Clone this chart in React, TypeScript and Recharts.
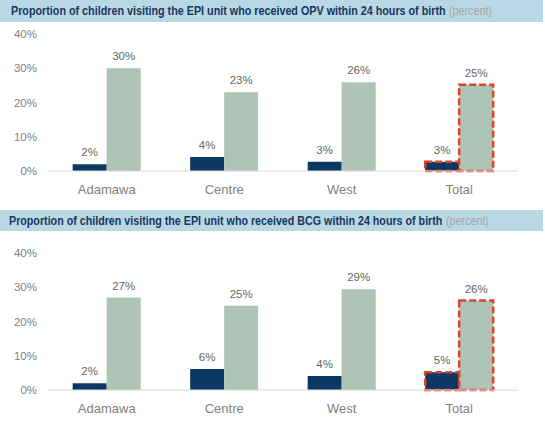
import { BarChart, Bar, XAxis, YAxis, Cell, LabelList } from "recharts";

const regions = ["Adamawa", "Centre", "West", "Total"];
const opvDark = [2, 4.1, 2.7, 2.7];
const opvLight = [30, 23, 25.9, 25.2];
const bcgDark = [2, 6.1, 4.1, 5.2];
const bcgLight = [27, 24.6, 29.4, 26.1];
const yTicks = [0, 10, 20, 30, 40];
const highlighted = "Total";

const opvTitle = "Proportion of children visiting the EPI unit who received OPV within 24 hours of birth";
const bcgTitle = "Proportion of children visiting the EPI unit who received BCG within 24 hours of birth";

const NAVY = "#0b3862";
const SAGE = "#adc4b6";
const RED = "#d9452b";
const FONT = "'Liberation Sans', Arial, sans-serif";

const pct = (v: any) => `${Math.round(Number(v))}%`;

// measure natural width so the condensed title can be squeezed with a transform
function measure(text: string, font: string) {
  const ctx = document.createElement("canvas").getContext("2d");
  if (!ctx) return text.length * 6;
  ctx.font = font;
  return ctx.measureText(text).width;
}

function Squeezed({ text, x, y, width, bold, fill }: { text: string; x: number; y: number; width: number; bold?: boolean; fill: string }) {
  const natural = measure(text, `${bold ? "bold " : ""}12px ${FONT}`);
  const sx = width / natural;
  return (
    <g transform={`translate(${x},${y}) scale(${sx},1)`}>
      <text x={0} y={0} fontFamily={FONT} fontSize={12} fontWeight={bold ? "bold" : "normal"} fill={fill}>
        {text}
      </text>
    </g>
  );
}

function Title({ text, x, end, height }: { text: string; x: number; end: number; height: number }) {
  const baseline = height / 2 + 4.3;
  return (
    <svg width={545} height={height} style={{ display: "block" }}>
      <rect x={0} y={0} width={543} height={height} fill="#b9d8e6" />
      <Squeezed text={text} x={x} y={baseline} width={end - x} bold fill="#17375e" />
      <Squeezed text="(percent)" x={end + 3} y={baseline} width={43} fill="#a6a6a6" />
    </svg>
  );
}

function Panel({ dark, light, height, top, axisHeight }: { dark: number[]; light: number[]; height: number; top: number; axisHeight: number }) {
  const data = regions.map((region, i) => ({ region, dark: dark[i], light: light[i] }));
  return (
    <BarChart
      width={545}
      height={height}
      data={data}
      margin={{ top, right: 27, left: 0, bottom: 0 }}
      barCategoryGap="21%"
      barGap={0}
    >
      <XAxis
        dataKey="region"
        height={axisHeight}
        tickLine={false}
        axisLine={{ stroke: "#d9d9d9" }}
        tickMargin={8}
        tick={{ fill: "#808080", fontSize: 13, fontFamily: FONT }}
      />
      <YAxis
        width={48}
        domain={[0, 40]}
        ticks={yTicks}
        tickFormatter={(v) => `${v}%`}
        axisLine={false}
        tickLine={false}
        tickMargin={5}
        tick={{ fill: "#808080", fontSize: 11.5, fontFamily: FONT }}
      />
      <Bar dataKey="dark" fill={NAVY} isAnimationActive={false}>
        {data.map((d) => (
          <Cell
            key={d.region}
            stroke={d.region === highlighted ? RED : "none"}
            strokeWidth={2.5}
            strokeDasharray="7 3"
          />
        ))}
        <LabelList dataKey="dark" position="top" offset={8} formatter={pct} fill="#666666" fontSize={11.5} fontFamily={FONT} />
      </Bar>
      <Bar dataKey="light" fill={SAGE} isAnimationActive={false}>
        {data.map((d) => (
          <Cell
            key={d.region}
            stroke={d.region === highlighted ? RED : "none"}
            strokeWidth={2.5}
            strokeDasharray="7 3"
          />
        ))}
        <LabelList dataKey="light" position="top" offset={8} formatter={pct} fill="#666666" fontSize={11.5} fontFamily={FONT} />
      </Bar>
    </BarChart>
  );
}

export default function App() {
  return (
    <div style={{ position: "absolute", left: 0, top: 0, width: 545, height: 427, background: "#fff", fontFamily: FONT }}>
      <div style={{ position: "absolute", left: 0, top: 0 }}>
        <Title text={opvTitle} x={11} end={446} height={22} />
      </div>
      <div style={{ position: "absolute", left: 0, top: 22 }}>
        <Panel dark={opvDark} light={opvLight} height={183} top={12} axisHeight={34} />
      </div>
      <div style={{ position: "absolute", left: 0, top: 210 }}>
        <Title text={bcgTitle} x={9} end={443} height={21} />
      </div>
      <div style={{ position: "absolute", left: 0, top: 231 }}>
        <Panel dark={bcgDark} light={bcgLight} height={196} top={22} axisHeight={37} />
      </div>
    </div>
  );
}
